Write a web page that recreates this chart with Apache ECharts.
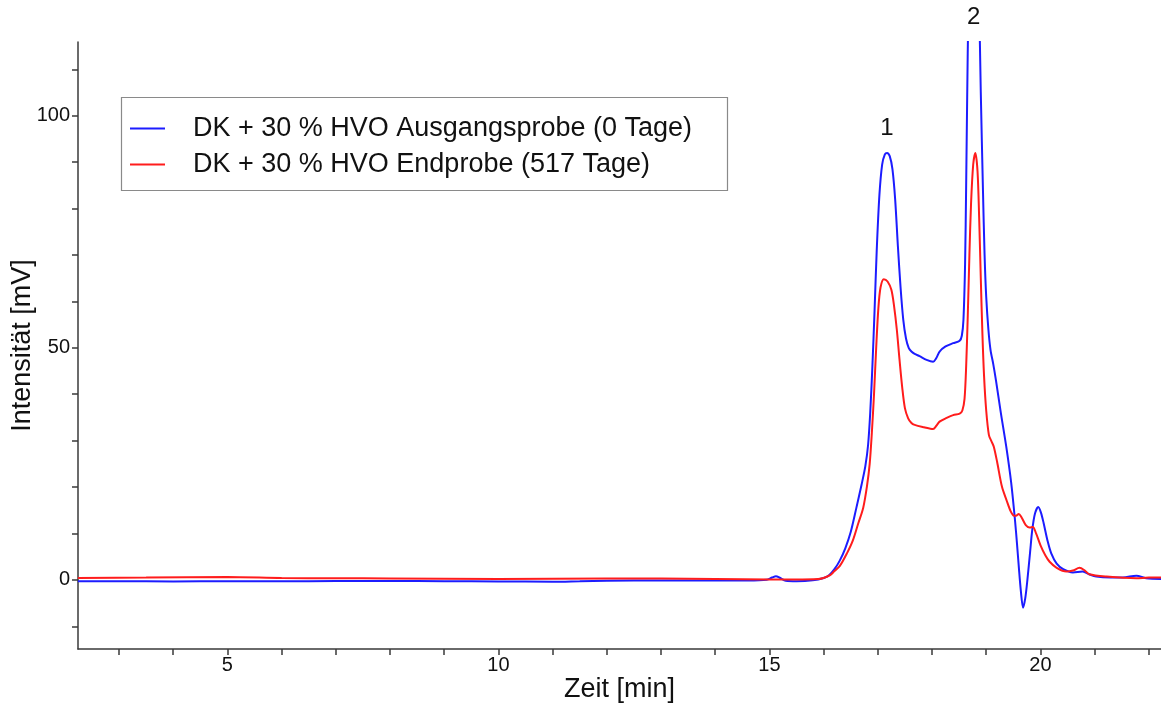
<!DOCTYPE html>
<html>
<head>
<meta charset="utf-8">
<title>Chromatogramm DK + 30 % HVO</title>
<script src="https://cdn.jsdelivr.net/npm/echarts@6/dist/echarts.min.js"></script>
<style>
  html, body { margin: 0; padding: 0; background: #ffffff; }
  #chart { width: 1161px; height: 706px; }
</style>
</head>
<body>
<div id="chart"></div>
<script>
// Retention time [min] and detector signal [mV], Ausgangsprobe (0 Tage)
const timeStart = [2.24, 3, 4, 5, 6, 7, 8, 9, 10, 11, 11.5, 12, 13, 14, 14.6, 14.95, 15.05, 15.12, 15.2, 15.3, 15.5, 15.8,
  16.0, 16.1, 16.2, 16.3, 16.4, 16.5, 16.6, 16.7, 16.77, 16.82, 16.86, 16.9, 16.94, 16.98, 17.03, 17.08, 17.13, 17.17,
  17.22, 17.27, 17.32, 17.37, 17.42, 17.47, 17.52, 17.57, 17.62, 17.68, 17.77, 17.9, 18.02, 18.08, 18.14, 18.25, 18.39, 18.51,
  18.55, 18.58, 18.61, 18.63, 18.65, 18.67, 18.71, 18.77, 18.83, 18.87, 18.9, 18.94, 18.97, 19.0, 19.04, 19.08, 19.13, 19.18,
  19.27, 19.37, 19.46, 19.53, 19.57, 19.6, 19.64, 19.68, 19.72, 19.76, 19.81, 19.85, 19.9, 19.96, 20.01, 20.06, 20.13, 20.2,
  20.3, 20.42, 20.6, 20.78, 20.9, 21.03, 21.3, 21.52, 21.77, 21.95, 22.24];
const signalStart = [-0.3, -0.3, -0.35, -0.3, -0.3, -0.25, -0.25, -0.3, -0.35, -0.4, -0.3, -0.2, -0.15, -0.15, -0.15, 0, 0.5, 0.8, 0.4, -0.2, -0.3, -0.1,
  0.4, 1.0, 2.3, 4.2, 6.8, 10.3, 15.3, 20.5, 24.5, 29, 36, 46, 58, 71, 83, 89.5, 91.7, 92,
  91.3, 88.5, 82, 72, 63, 56, 52, 50, 49.2, 48.7, 48.2, 47.4, 47.0, 47.8, 49.2, 50.3, 51.0, 51.5,
  52.6, 56, 68, 85, 105, 122, 142, 152, 142, 124, 105, 84, 70, 61, 54, 49.5, 46.5, 43,
  36, 28.7, 21, 13, 7.5, 3, -2.5, -6.0, -4, 0, 6, 10.8, 14.3, 15.7, 14.5, 12.2, 8.5, 5.7,
  3.5, 2.3, 1.6, 1.8, 1.2, 0.7, 0.5, 0.5, 0.9, 0.35, 0.2];

// Retention time [min] and detector signal [mV], Endprobe (517 Tage)
const timeEnd = [2.24, 3.5, 5, 6, 7, 8, 10, 12, 14, 15, 15.5, 15.9, 16.0, 16.12, 16.2, 16.3, 16.43, 16.54, 16.64, 16.73,
  16.8, 16.85, 16.89, 16.93, 16.97, 17.01, 17.05, 17.11, 17.18, 17.25, 17.3, 17.35, 17.4, 17.45, 17.5, 17.56, 17.62, 17.68, 17.85,
  18.02, 18.08, 18.14, 18.27, 18.39, 18.51, 18.56, 18.6, 18.63, 18.66, 18.69, 18.72, 18.76, 18.8, 18.84, 18.87, 18.9,
  18.93, 18.96, 19.0, 19.05, 19.1, 19.14, 19.2, 19.29, 19.38, 19.45, 19.5, 19.55, 19.6, 19.65, 19.73, 19.8, 19.86, 19.92,
  20.0, 20.09, 20.17, 20.3, 20.48, 20.6, 20.72, 20.82, 20.9, 21.22, 21.77, 22.0, 22.24];
const signalEnd = [0.4, 0.5, 0.6, 0.4, 0.35, 0.3, 0.2, 0.3, 0.2, 0.1, 0.1, 0.2, 0.4, 1.0, 1.9, 3.0, 5.7, 8.5, 12.2, 15.5,
  20.2, 25, 31.7, 40, 50, 58.5, 63, 64.8, 64.3, 62.5, 59, 54, 47.5, 41.5, 37, 34.8, 33.8, 33.4, 32.9,
  32.5, 33.2, 34.1, 34.9, 35.5, 35.8, 36.5, 39, 46, 57, 70, 81, 89.5, 92, 88, 78, 65,
  53, 44, 36.5, 31.2, 29.8, 28.7, 25.5, 20.1, 17, 14.8, 13.9, 13.8, 14.2, 13.5, 11.8, 11.3, 11.4, 10,
  7.5, 5.3, 3.9, 2.6, 1.8, 2.0, 2.6, 2.0, 1.2, 0.7, 0.35, 0.5, 0.5];

const seriesNames = ['DK + 30 % HVO Ausgangsprobe (0 Tage)', 'DK + 30 % HVO Endprobe (517 Tage)'];
const xTicks = [3, 4, 5, 6, 7, 8, 9, 10, 11, 12, 13, 14, 15, 16, 17, 18, 19, 20, 21, 22];
const xTickLabels = [5, 10, 15, 20];
const yTicks = [-10, 0, 10, 20, 30, 40, 50, 60, 70, 80, 90, 100, 110];
const yTickLabels = [0, 50, 100];
// Peak numbers and the positions they are written at [min, mV]
const peakNames = ['1', '2'];
const peakPositions = [[17.17, 92], [18.77, 115.9]];

const pairs = (t, v) => t.map((x, i) => [x, v[i]]);
const FONT = '"Liberation Sans", Arial, sans-serif';
const AXIS_COLOR = '#3a3a3a';

const chart = echarts.init(document.getElementById('chart'), null, { renderer: 'canvas' });

const option = {
  animation: false,
  backgroundColor: '#ffffff',
  textStyle: { fontFamily: FONT },
  grid: { left: 78, right: 0, top: 42, bottom: 57, containLabel: false, outerBoundsMode: 'none' },
  xAxis: {
    type: 'value',
    min: 2.243,
    max: 22.225,
    name: 'Zeit [min]',
    nameLocation: 'middle',
    nameGap: 27,
    nameMoveOverlap: false,
    nameTextStyle: { fontFamily: FONT, fontSize: 27, color: '#111' },
    axisLine: { show: true, onZero: false, lineStyle: { color: AXIS_COLOR, width: 1.5 } },
    axisTick: { show: true, inside: false, length: 6, customValues: xTicks, lineStyle: { color: AXIS_COLOR, width: 1.5 } },
    axisLabel: { show: true, customValues: xTickLabels, margin: 6, fontFamily: FONT, fontSize: 20, color: '#111' },
    splitLine: { show: false }
  },
  yAxis: {
    type: 'value',
    min: -14.9,
    max: 115.9,
    name: 'Intensität [mV]',
    nameLocation: 'middle',
    nameGap: 42,
    nameMoveOverlap: false,
    nameRotate: 90,
    nameTextStyle: { fontFamily: FONT, fontSize: 27, color: '#111' },
    axisLine: { show: true, onZero: false, lineStyle: { color: AXIS_COLOR, width: 1.5 } },
    axisTick: { show: true, inside: false, length: 6, customValues: yTicks, lineStyle: { color: AXIS_COLOR, width: 1.5 } },
    axisLabel: { show: true, customValues: yTickLabels, margin: 8, fontFamily: FONT, fontSize: 20, color: '#111' },
    splitLine: { show: false }
  },
  legend: {
    orient: 'vertical',
    left: 130,
    top: 114,
    padding: 0,
    itemGap: 7,
    itemWidth: 35,
    itemHeight: 2,
    icon: 'rect',
    textStyle: { fontFamily: FONT, fontSize: 27, color: '#111', lineHeight: 29, padding: [0, 0, 0, 23] },
    data: seriesNames
  },
  series: [
    {
      name: seriesNames[0],
      type: 'line',
      data: pairs(timeStart, signalStart),
      showSymbol: false,
      smooth: 0.3,
      clip: true,
      z: 2,
      lineStyle: { color: '#1c1cff', width: 2 },
      itemStyle: { color: '#1c1cff' }
    },
    {
      name: seriesNames[1],
      type: 'line',
      data: pairs(timeEnd, signalEnd),
      showSymbol: false,
      smooth: 0.3,
      clip: true,
      z: 3,
      lineStyle: { color: '#ff1c1c', width: 2 },
      itemStyle: { color: '#ff1c1c' }
    }
  ]
};

chart.setOption(option);

// Legend frame and peak numbers, placed through the axis scales
const peakTexts = peakNames.map((name, i) => {
  const p = chart.convertToPixel({ gridIndex: 0 }, peakPositions[i]);
  return {
    type: 'text',
    x: p[0],
    y: p[1] - 25,
    style: { text: name, fontFamily: FONT, fontSize: 24, fill: '#111', align: 'center', verticalAlign: 'middle' },
    z: 10
  };
});

chart.setOption({
  graphic: [
    {
      type: 'rect',
      shape: { x: 121.5, y: 97.5, width: 606, height: 93 },
      style: { fill: 'none', stroke: '#8a8a8a', lineWidth: 1.2 },
      z: 0
    }
  ].concat(peakTexts)
});
</script>
</body>
</html>
